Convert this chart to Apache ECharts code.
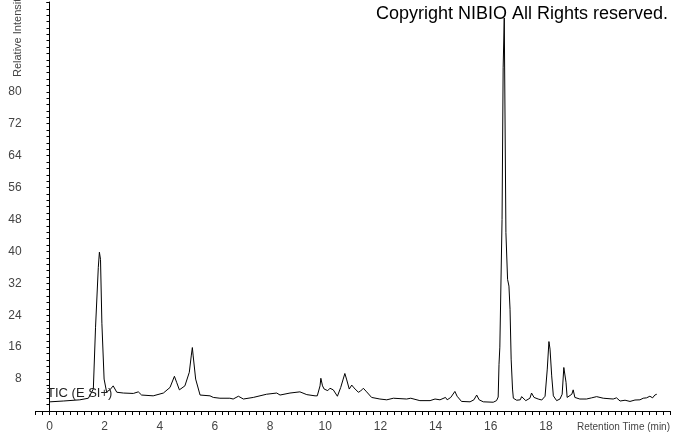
<!DOCTYPE html>
<html>
<head>
<meta charset="utf-8">
<script src="https://cdn.jsdelivr.net/npm/echarts@6/dist/echarts.min.js"></script>
<style>
html,body{margin:0;padding:0;background:#fff;}
#chart{width:673px;height:433px;}
</style>
</head>
<body>
<div id="chart"></div>
<script>
// Retention time (min)
var retentionTime = [
0.02,0.5,1.1,1.41,1.59,1.67,1.77,1.81,1.85,1.90,1.98,2.07,2.19,2.31,2.44,2.68,3.04,3.22,3.34,3.76,
4.13,4.37,4.53,4.61,4.71,4.91,5.07,5.14,5.18,5.21,5.30,5.46,5.82,5.94,6.18,6.54,6.66,6.85,7.03,7.39,
7.87,8.24,8.36,8.72,9.08,9.33,9.63,9.71,9.81,9.84,9.90,9.96,10.02,10.09,10.17,10.29,10.35,10.44,10.56,10.65,
10.71,10.77,10.87,10.96,11.04,11.11,11.20,11.28,11.38,11.50,11.68,11.98,12.23,12.47,12.95,13.1,13.43,13.80,13.98,14.16,
14.36,14.42,14.55,14.70,14.78,14.94,15.25,15.39,15.49,15.58,15.73,16.09,16.21,16.27,16.30,16.33,16.41,16.45,16.49,16.51,
16.55,16.61,16.66,16.70,16.74,16.79,16.82,16.94,17.07,17.12,17.27,17.42,17.48,17.57,17.64,17.72,17.85,17.97,18.05,18.11,
18.15,18.21,18.27,18.39,18.51,18.59,18.65,18.69,18.73,18.77,18.84,18.94,18.99,19.05,19.23,19.47,19.66,19.84,20.08,20.44,
20.56,20.69,20.87,21.05,21.23,21.41,21.53,21.65,21.77,21.87,21.95,22.02
];
// Relative intensity
var relativeIntensity = [
2.3,2.5,2.8,3.2,5.5,21,36,39.8,38,22,8,4.8,5.3,6.3,4.7,4.5,4.4,4.8,4.0,3.8,
4.5,5.9,8.7,7.2,5.3,6.3,9.7,13.8,15.9,13.8,8,4,3.8,3.4,3.2,3.2,3.0,3.7,3.0,3.4,
4.2,4.5,4.0,4.5,4.8,4.1,3.8,3.8,6.3,8.2,6.3,5.5,5.8,5.1,5.7,5.3,5.5,3.7,5.9,8,
9.4,8,5.5,6.5,5.8,6.3,4.7,5.0,5.7,4.8,3.4,3.0,2.8,3.2,3.0,3.2,2.6,2.6,3.0,2.8,
3.4,2.8,3.4,4.9,3.7,2.4,2.3,2.8,4.0,2.8,2.3,2.2,2.6,3.5,11.7,16,48,86,98.5,98.5,
44.7,33,31.3,25.5,13,5.5,3.2,2.7,2.8,3.6,2.6,3.2,4.5,3.4,3.7,3.0,2.75,3.7,10.5,17.4,
15.5,8.8,3.8,2.6,3.0,4.2,10.9,10.7,7.2,3.4,3.0,4.2,5.3,3.4,3.0,3.0,3.3,3.6,3.2,3.0,
3.3,2.5,2.7,2.4,2.75,2.8,3.2,3.3,3.7,3.3,4.0,4.2
];
var xLabelValues = [0,2,4,6,8,10,12,14,16,18];
var yLabelValues = [8,16,24,32,40,48,56,64,72,80];

var titleText = 'Copyright NIBIO All Rights reserved.';
var traceLabel = 'TIC (E SI+)';
var xName = 'Retention Time (min)';
var yName = 'Relative Intensity';

var seriesData = retentionTime.map(function (t, i) { return [t, relativeIntensity[i]]; });

function isIn(list, v) {
  for (var i = 0; i < list.length; i++) if (Math.abs(list[i] - v) < 1e-6) return true;
  return false;
}

var chart = echarts.init(document.getElementById('chart'), null, {renderer: 'canvas'});
chart.setOption({
  animation: false,
  backgroundColor: '#ffffff',
  grid: {left: 35.7, right: 3, top: 2, bottom: 21, containLabel: false},
  xAxis: {
    type: 'value', min: -0.5, max: 22.5, interval: 0.25,
    axisLine: {show: true, onZero: false, lineStyle: {color: '#000', width: 1}},
    axisTick: {show: true, length: 4, lineStyle: {color: '#000'}},
    splitLine: {show: false},
    axisLabel: {
      margin: 10, color: '#444', fontSize: 12, fontFamily: 'Liberation Sans, Arial, sans-serif',
      formatter: function (v) { return isIn(xLabelValues, v) ? String(Math.round(v)) : ''; }
    }
  },
  yAxis: {
    type: 'value', min: 0, max: 102.5, interval: 1.6,
    axisLine: {show: true, lineStyle: {color: '#000', width: 1}},
    axisTick: {show: true, length: 3, lineStyle: {color: '#000'}},
    splitLine: {show: false},
    axisLabel: {
      margin: 14, color: '#444', fontSize: 12, fontFamily: 'Liberation Sans, Arial, sans-serif',
      formatter: function (v) { return isIn(yLabelValues, v) ? String(Math.round(v)) : ''; }
    }
  },
  graphic: [
    {type: 'text', x: 376, y: 14, style: {text: titleText, font: '18px "Liberation Sans", Arial, sans-serif', fill: '#000', verticalAlign: 'middle', align: 'left'}},
    {type: 'text', x: 47, y: 393, z: 100, style: {text: traceLabel, font: '13px "Liberation Sans", Arial, sans-serif', fill: '#222', verticalAlign: 'middle', align: 'left'}},
    {type: 'text', x: 577, y: 427, style: {text: xName, font: '10px "Liberation Sans", Arial, sans-serif', fill: '#444', verticalAlign: 'middle', align: 'left'}},
    {type: 'text', x: 18, y: 77, rotation: Math.PI / 2, style: {text: yName, font: '11px "Liberation Sans", Arial, sans-serif', fill: '#444', verticalAlign: 'middle', align: 'left'}}
  ],
  series: [{
    type: 'line', data: seriesData, showSymbol: false, symbol: 'none',
    lineStyle: {color: '#000', width: 1}, silent: true
  }]
});
</script>
</body>
</html>
